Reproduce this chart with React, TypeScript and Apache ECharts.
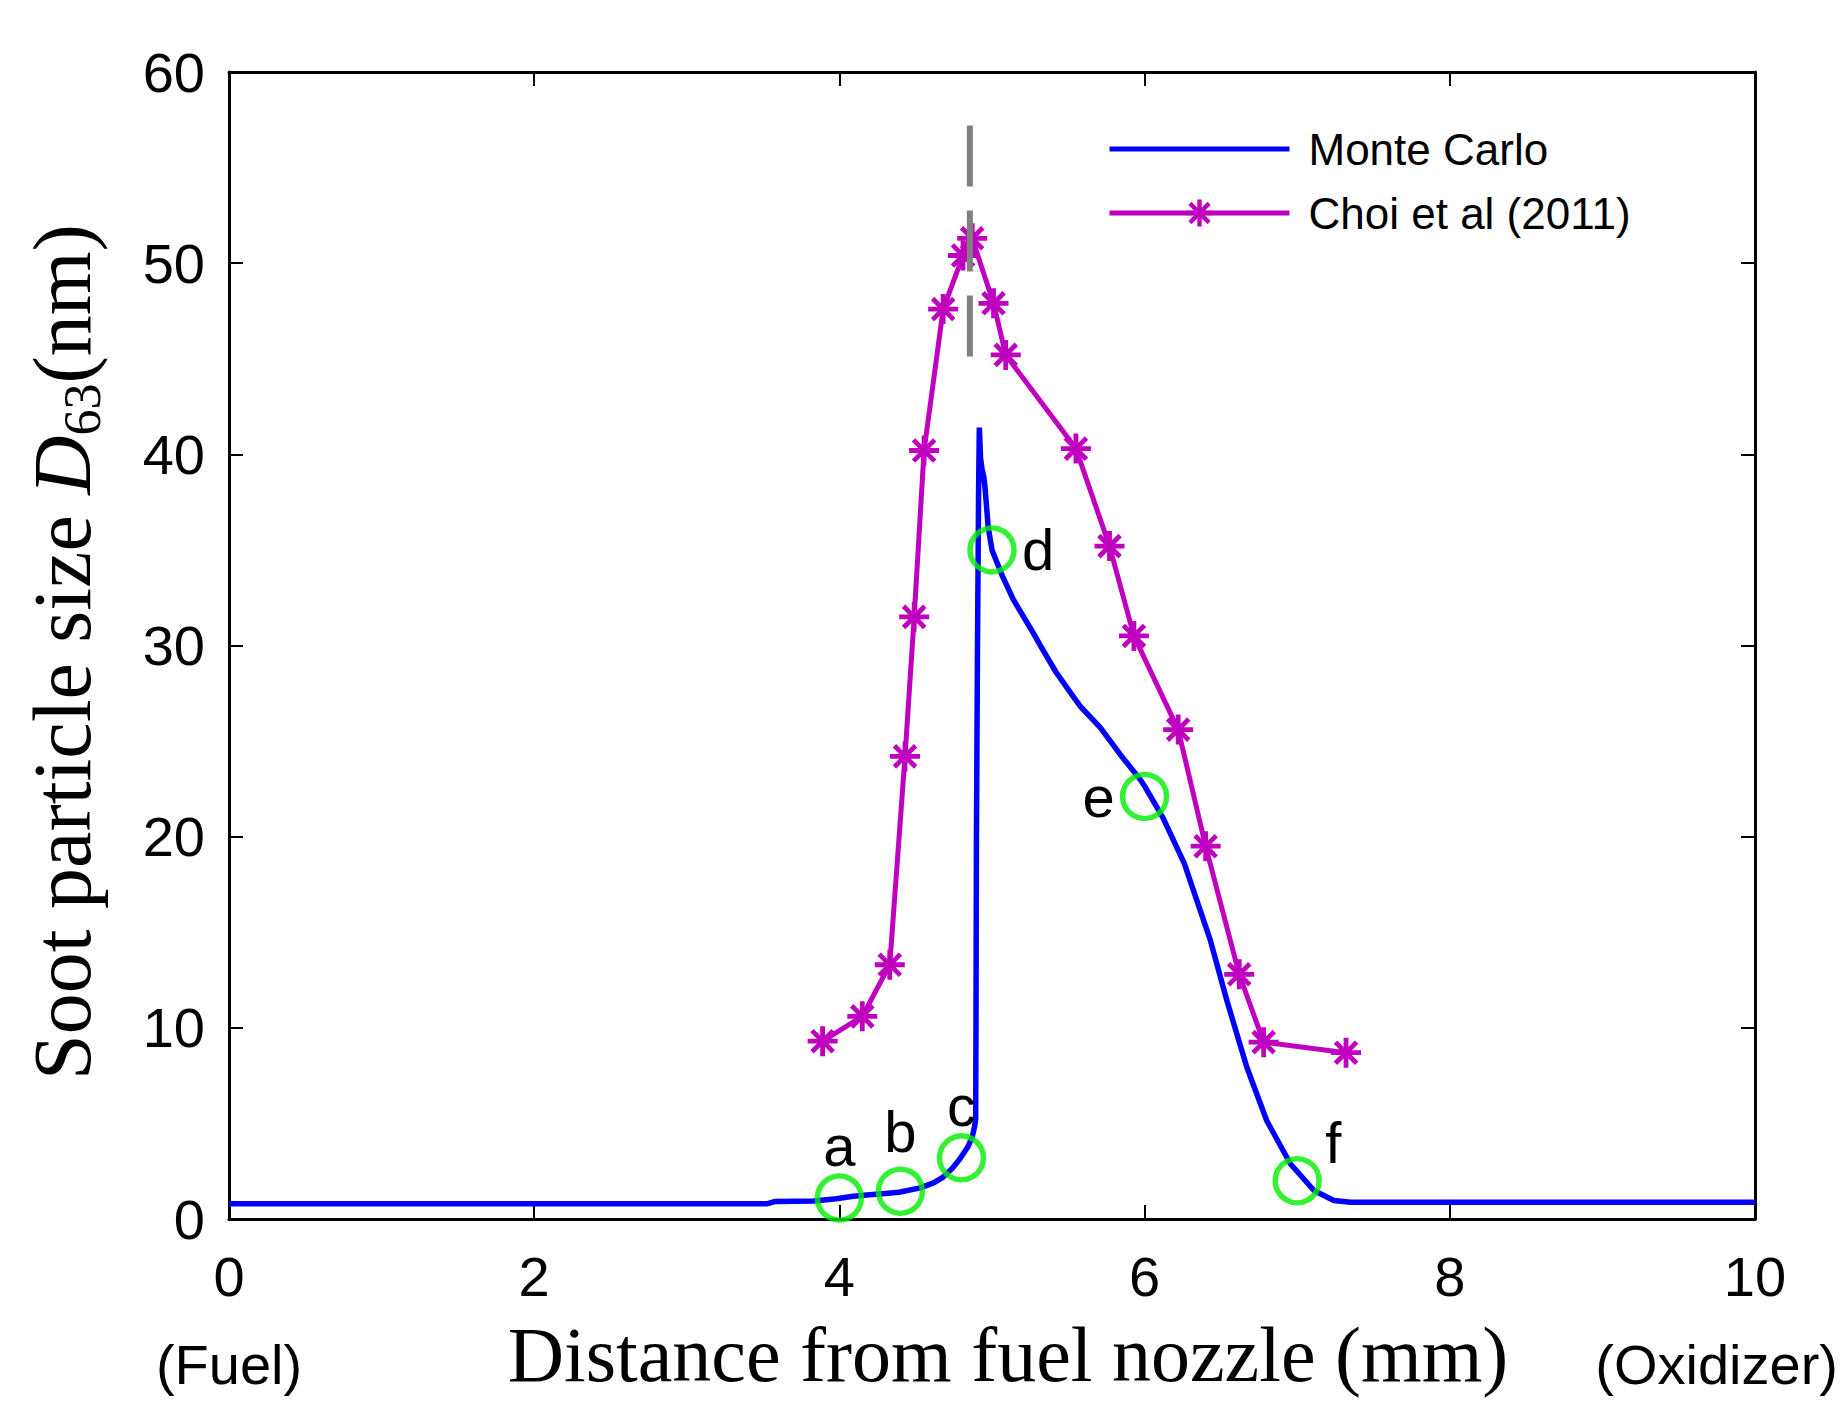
import React, { useEffect, useRef } from 'react';
import * as echarts from 'echarts';

// Monte Carlo simulation (blue line)
const blueX = [0, 3.53, 3.58, 3.83, 3.98, 4.09, 4.16, 4.30, 4.39, 4.53, 4.62, 4.68, 4.74, 4.79, 4.84, 4.87, 4.885, 4.893, 4.895, 4.898, 4.905, 4.912, 4.917, 4.925, 4.935, 4.947, 4.955, 4.965, 4.975, 5.00, 5.07, 5.14, 5.27, 5.32, 5.42, 5.535, 5.58, 5.71, 5.84, 5.97, 6.0, 6.12, 6.26, 6.43, 6.54, 6.67, 6.80, 6.955, 7.11, 7.24, 7.35, 10];
const blueY = [0.80, 0.80, 0.92, 0.94, 1.06, 1.19, 1.24, 1.33, 1.40, 1.63, 1.90, 2.19, 2.65, 3.15, 3.75, 4.28, 4.8, 5.2, 10, 20, 30, 38, 41.4, 39.8, 39.2, 38.8, 38.2, 37.2, 36.2, 35.0, 33.6, 32.4, 30.66, 29.95, 28.6, 27.3, 26.8, 25.7, 24.3, 23.0, 22.65, 21.0, 18.6, 14.6, 11.4, 7.94, 5.15, 2.89, 1.49, 0.97, 0.88, 0.88];

// Choi et al (2011) (magenta with asterisks)
const choiX = [3.89, 4.15, 4.33, 4.43, 4.49, 4.555, 4.68, 4.81, 4.87, 5.01, 5.09, 5.55, 5.77, 5.93, 6.22, 6.40, 6.62, 6.78, 7.32];
const choiY = [9.3, 10.6, 13.3, 24.2, 31.5, 40.2, 47.6, 50.4, 51.3, 47.9, 45.2, 40.3, 35.2, 30.5, 25.6, 19.5, 12.8, 9.25, 8.7];

// Marked points (green circles)
const markNames = ['a', 'b', 'c', 'd', 'e', 'f'];
const markX = [4.0, 4.4, 4.8, 5.0, 6.0, 7.0];
const markY = [1.1, 1.45, 3.2, 35.0, 22.1, 2.0];
const markLabelOffset: [number, number][] = [[0, -52], [0, -60], [0, -52], [46, 0], [-46, 0], [36, -38]];

// Vertical dashed guide line
const guideX = [4.855, 4.855];
const guideY = [57.2, 45.1];

const seriesNames = ['Monte Carlo', 'Choi et al (2011)'];

function asteriskPath(t: number): string {
  let d = '';
  for (const ang of [0, 45, 90, 135]) {
    const a = (ang * Math.PI) / 180;
    const c = Math.cos(a), s = Math.sin(a);
    const pts = [[-1, -t], [1, -t], [1, t], [-1, t]].map(([u, v]) => [u * c - v * s, u * s + v * c]);
    d += 'M' + pts.map((p) => (p[0] * 50).toFixed(2) + ' ' + (p[1] * 50).toFixed(2)).join(' L') + ' Z ';
  }
  return 'path://' + d;
}

const SANS = 'Liberation Sans, Arial, Helvetica, sans-serif';
const SERIF = 'Liberation Serif, Times New Roman, serif';
const BLUE = '#0000ff';
const MAGENTA = '#bf00bf';

export default function App() {
  const ref = useRef<HTMLDivElement>(null);
  useEffect(() => {
    document.body.style.margin = '0';
    const chart = echarts.init(ref.current!, null, { renderer: 'svg' });
    const star = asteriskPath(0.16);
    const axisCommon = {
      min: 0,
      axisLine: { show: true, onZero: false, lineStyle: { color: '#000', width: 3 } },
      axisTick: { show: true, inside: true, length: 14, lineStyle: { color: '#000', width: 2 } },
      splitLine: { show: false },
    };
    chart.setOption({
      animation: false,
      backgroundColor: '#fff',
      grid: { left: 229, top: 72, width: 1526, height: 1147, containLabel: false },
      legend: {
        data: [
          { name: seriesNames[0], itemStyle: { opacity: 0 }, lineStyle: { color: BLUE, width: 5 } },
          { name: seriesNames[1], itemStyle: { color: MAGENTA }, lineStyle: { color: MAGENTA, width: 5 } },
        ],
        orient: 'vertical',
        left: 1102,
        top: 122,
        itemWidth: 180,
        itemHeight: 34,
        itemGap: 20,
        textStyle: { fontFamily: SANS, fontSize: 44, color: '#000', lineHeight: 44, padding: [0, 0, 0, 14] },
        selectedMode: false,
      },
      xAxis: [
        {
          ...axisCommon,
          type: 'value',
          max: 10,
          interval: 2,
          position: 'bottom',
          axisLabel: { fontFamily: SANS, fontSize: 56, color: '#000', margin: 29 },
        },
        {
          ...axisCommon,
          type: 'value',
          max: 10,
          interval: 2,
          position: 'top',
          axisLabel: { show: false },
        },
      ],
      yAxis: [
        {
          ...axisCommon,
          type: 'value',
          max: 60,
          interval: 10,
          position: 'left',
          axisLabel: { fontFamily: SANS, fontSize: 56, color: '#000', margin: 24 },
        },
        {
          ...axisCommon,
          type: 'value',
          max: 60,
          interval: 10,
          position: 'right',
          axisLabel: { show: false },
        },
      ],
      series: [
        {
          name: seriesNames[0],
          type: 'line',
          data: blueX.map((x, i) => [x, blueY[i]]),
          symbol: 'none',
          lineStyle: { color: BLUE, width: 5.5 },
          itemStyle: { color: BLUE },
          z: 3,
        },
        {
          name: seriesNames[1],
          type: 'line',
          data: choiX.map((x, i) => [x, choiY[i]]),
          symbol: star,
          symbolSize: 30,
          showSymbol: true,
          lineStyle: { color: MAGENTA, width: 5 },
          itemStyle: { color: MAGENTA },
          z: 4,
        },
        {
          name: 'guide',
          type: 'line',
          data: guideX.map((x, i) => [x, guideY[i]]),
          symbol: 'none',
          lineStyle: { color: '#808080', width: 6, type: [61, 24] },
          z: 5,
        },
        {
          name: 'marks',
          type: 'scatter',
          data: markX.map((x, i) => ({
            name: markNames[i],
            value: [x, markY[i]],
            label: { offset: markLabelOffset[i] },
          })),
          symbol: 'circle',
          symbolSize: 44,
          itemStyle: { color: 'rgba(0,0,0,0)', borderColor: '#00ee00', borderWidth: 5.5 },
          label: {
            show: true,
            position: 'inside',
            formatter: (p: any) => p.name,
            fontFamily: SANS,
            fontSize: 58,
            color: '#000',
            opacity: 1,
            textBorderWidth: 0,
          },
          z: 6,
        },
      ],
      graphic: [
        {
          type: 'text',
          x: 62,
          y: 652,
          rotation: Math.PI / 2,
          style: {
            text: '{r|Soot particle size }{i|D}{s|63}{r|(nm)}',
            align: 'center',
            verticalAlign: 'middle',
            fill: '#000',
            rich: {
              r: { fontFamily: SERIF, fontSize: 82, lineHeight: 92, fill: '#000' },
              i: { fontFamily: SERIF, fontStyle: 'italic', fontSize: 82, lineHeight: 92, fill: '#000' },
              s: { fontFamily: SERIF, fontSize: 52, lineHeight: 52, verticalAlign: 'bottom', fill: '#000' },
            },
          },
        },
        {
          type: 'text',
          x: 1008,
          y: 1354,
          style: { text: 'Distance from fuel nozzle (mm)', fontFamily: SERIF, fontSize: 78, fill: '#000', align: 'center', verticalAlign: 'middle' },
        },
        {
          type: 'text',
          x: 229,
          y: 1364,
          style: { text: '(Fuel)', fontFamily: SANS, fontSize: 56, fill: '#000', align: 'center', verticalAlign: 'middle' },
        },
        {
          type: 'text',
          x: 1838,
          y: 1364,
          style: { text: '(Oxidizer)', fontFamily: SANS, fontSize: 56, fill: '#000', align: 'right', verticalAlign: 'middle' },
        },
      ],
    });
    return () => chart.dispose();
  }, []);
  return <div ref={ref} style={{ position: 'absolute', left: 0, top: 0, width: 1842, height: 1402 }} />;
}
